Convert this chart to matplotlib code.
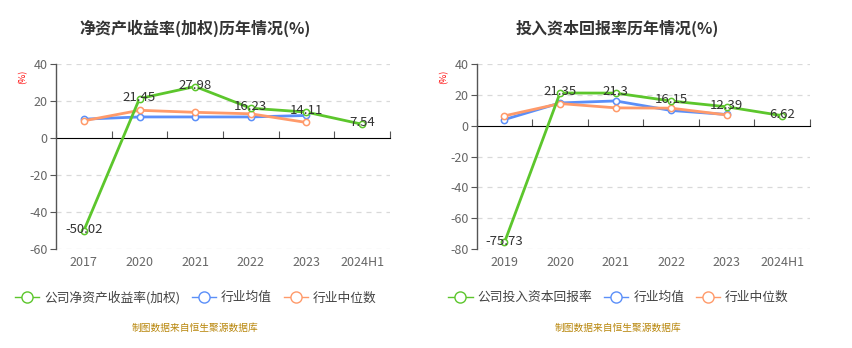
import matplotlib
matplotlib.use("Agg")
import matplotlib.pyplot as plt
from matplotlib.lines import Line2D
import numpy as np

plt.rcParams['font.family'] = ['Noto Sans CJK SC', 'DejaVu Sans']
plt.rcParams['axes.unicode_minus'] = False

# ---- data ----
left_title = "净资产收益率(加权)历年情况(%)"
left_cats = ["2017", "2020", "2021", "2022", "2023", "2024H1"]
left_company = [-50.02, 21.45, 27.98, 16.23, 14.11, 7.54]
left_mean = [10.3, 11.5, 11.5, 11.5, 12.3]
left_median = [9.4, 15.1, 14.0, 13.2, 8.5]
left_names = ["公司净资产收益率(加权)", "行业均值", "行业中位数"]
left_yticks = [40, 20, 0, -20, -40, -60]

right_title = "投入资本回报率历年情况(%)"
right_cats = ["2019", "2020", "2021", "2022", "2023", "2024H1"]
right_company = [-75.73, 21.35, 21.3, 16.15, 12.39, 6.62]
right_mean = [4.1, 14.9, 16.2, 10.0, 7.4]
right_median = [6.5, 14.5, 11.7, 11.5, 7.1]
right_names = ["公司投入资本回报率", "行业均值", "行业中位数"]
right_yticks = [40, 20, 0, -20, -40, -60, -80]

source = "制图数据来自恒生聚源数据库"

GREEN = "#5cc62c"
BLUE = "#5b8ff9"
ORANGE = "#ff9a6a"
AXIS = "#555555"
TICK = "#666666"

fig = plt.figure(figsize=(8.53, 3.48), dpi=100)
fig.patch.set_facecolor("white")


def draw(rect, title, cats, comp, mean, med, names, yticks, title_x, legend_x):
    ax = fig.add_axes(rect)
    x = np.arange(len(cats))
    ymin, ymax = min(yticks), max(yticks)
    ax.set_ylim(ymin, ymax)
    ax.set_xlim(-0.5, len(cats) - 0.5)
    for yt in yticks:
        if yt != 0:
            ax.axhline(yt, color="#d9d9d9", lw=0.9, ls=(0, (4, 4)), zorder=0)
    mk = dict(marker="o", markersize=4.5, markerfacecolor="white", markeredgewidth=1.1)
    ax.plot(x, comp, color=GREEN, lw=2, zorder=4, markeredgecolor=GREEN, **mk)
    ax.plot(x[:len(mean)], mean, color=BLUE, lw=2, zorder=3, markeredgecolor=BLUE, **mk)
    ax.plot(x[:len(med)], med, color=ORANGE, lw=2, zorder=3, markeredgecolor=ORANGE, **mk)
    for xi, v in zip(x, comp):
        ax.annotate(f"{v:g}", (xi, v), xytext=(0, 1), textcoords="offset points",
                    ha="center", va="center", fontsize=9.5, color="#333333", zorder=6)
    for s in ["top", "right", "bottom"]:
        ax.spines[s].set_visible(False)
    ax.spines["left"].set_color(AXIS)
    ax.spines["left"].set_linewidth(1)
    ax.set_yticks(yticks)
    ax.tick_params(axis="y", length=4, color=AXIS, labelsize=9, labelcolor=TICK, pad=2)
    ax.set_xticks(x)
    ax.set_xticklabels(cats)
    ax.tick_params(axis="x", length=0, labelsize=9, labelcolor=TICK, pad=5)
    zero_frac = (0 - ymin) / (ymax - ymin)
    sec = ax.secondary_xaxis(zero_frac)
    sec.set_xticks(np.arange(len(cats) + 1) - 0.5)
    sec.set_xticklabels([])
    sec.tick_params(axis="x", length=5, color=AXIS, direction="out")
    sec.spines["bottom"].set_color(AXIS)
    sec.spines["bottom"].set_linewidth(1)
    ax.text(-0.10, 0.93, "(%)", transform=ax.transAxes, rotation=90, fontsize=6.5,
            color="red", ha="center", va="center")
    fig.text(title_x, 0.918, title, ha="center", va="center", fontsize=11.5,
             fontweight="bold", color="#333333")
    handles = [Line2D([], [], color=c, lw=1, marker="o", markersize=8,
                      markerfacecolor="white", markeredgecolor=c, markeredgewidth=1)
               for c in (GREEN, BLUE, ORANGE)]
    fig.legend(handles=handles, labels=names, loc="center left",
               bbox_to_anchor=(legend_x, 0.145), ncol=3, frameon=False,
               fontsize=9.2, handlelength=1.9, handletextpad=0.4,
               columnspacing=0.9, labelcolor="#444444")
    return ax


draw([56 / 853, 1 - 249 / 348, 334 / 853, 184.7 / 348], left_title, left_cats,
     left_company, left_mean, left_median, left_names, left_yticks, 195 / 853, 0.004)
draw([476.7 / 853, 1 - 249 / 348, 333.3 / 853, 184.7 / 348], right_title, right_cats,
     right_company, right_mean, right_median, right_names, right_yticks, 617 / 853, 0.512)

fig.text(195 / 853, 1 - 328 / 348, source, ha="center", va="center", fontsize=7, color="#b8860b")
fig.text(618 / 853, 1 - 328 / 348, source, ha="center", va="center", fontsize=7, color="#b8860b")

fig.savefig("out.png", dpi=100, facecolor="white")
